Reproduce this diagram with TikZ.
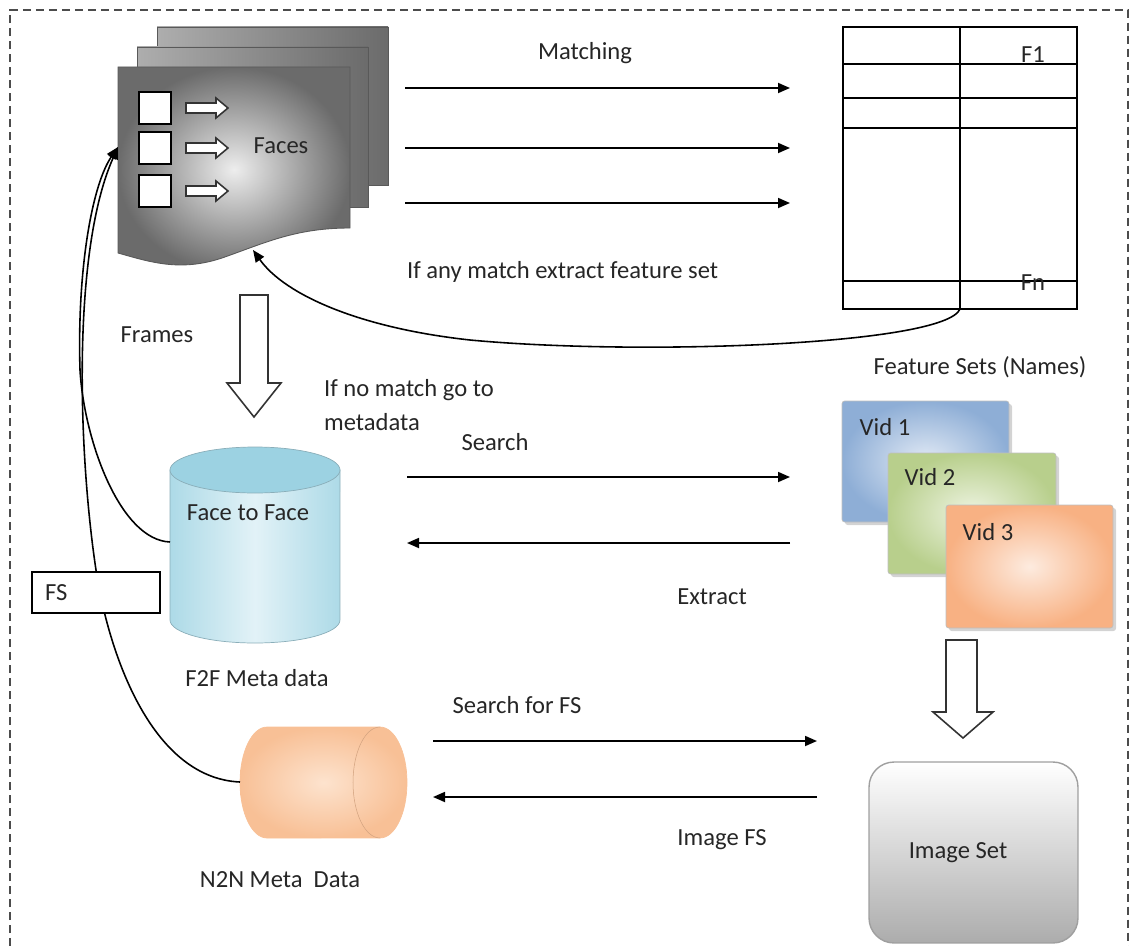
\documentclass[tikz,border=0pt]{standalone}
\usepackage{fontspec}
\setmainfont{Carlito}
\usetikzlibrary{arrows.meta,shadows}
\definecolor{sheetdark}{gray}{0.42}
\definecolor{sheetmid}{gray}{0.68}
\definecolor{sheetlight}{gray}{0.93}
\definecolor{cyltop}{HTML}{9CD2E2}
\definecolor{cylside}{HTML}{ADDAE7}
\definecolor{cyllight}{HTML}{E2F2F7}
\definecolor{n2nlight}{HTML}{FDE3CE}
\definecolor{n2nedge}{HTML}{F8C096}
\definecolor{vidA}{HTML}{8EAED6}
\definecolor{vidAl}{HTML}{E2EAF5}
\definecolor{vidB}{HTML}{B8CF8C}
\definecolor{vidBl}{HTML}{EEF4E2}
\definecolor{vidC}{HTML}{F8B183}
\definecolor{vidCl}{HTML}{FDEBDF}
\begin{document}
\begin{tikzpicture}[x=0.02cm,y=-0.02cm,
  txt/.style={font=\fontsize{14}{16}\selectfont, inner sep=1pt, text=black!85},
  conn/.style={line width=1pt, -{Triangle[length=0.24cm,width=0.2cm]}},
  link/.style={line width=0.9pt, -{Triangle[length=0.24cm,width=0.2cm]}},
  hollow/.style={draw=black!80, fill=white, line width=0.9pt},
  facebox/.style={draw=black, fill=white, line width=1pt, minimum size=0.64cm, inner sep=0pt},
  border/.style={draw=black!70, line width=0.8pt, dash pattern=on 0.16cm off 0.1cm},
  tline/.style={draw=black, line width=1pt},
  vid/.style={draw=black!25, line width=0.4pt, rounded corners=1.5pt, shading=radial,
     drop shadow={shadow xshift=0.06cm, shadow yshift=-0.06cm, opacity=0.35}},
]
\useasboundingbox (0,0) rectangle (1132,946);
% dashed frame
\draw[border] (10,946) -- (10,10) -- (1128,10) -- (1128,946);

% ---------- Faces document stack ----------
\path[draw=gray!70!black, line width=0.5pt, left color=sheetmid, right color=sheetdark] (157,27) rectangle (388,185);
\path[draw=gray!70!black, line width=0.5pt, left color=sheetmid, right color=sheetdark] (137,47) rectangle (368,207);
\path[draw=gray!70!black, line width=0.5pt, shading=radial, inner color=sheetlight, outer color=sheetdark]
  (118,67) -- (350,67) -- (350,228) .. controls (295,228) and (265,243) .. (222,258)
  .. controls (180,272) and (150,262) .. (118,253) -- cycle;
\coordinate (facesL) at (118,147);
\coordinate (facesB) at (253,250);
\foreach \c/\n in {108/1,148/2,191/3}{
  \node[facebox] (sq\n) at (155,\c) {};
  \draw[hollow] (186,\c) ++(0,-5) -- ++(30,0) -- ++(0,-5) -- ++(12,10) -- ++(-12,10) -- ++(0,-5) -- ++(-30,0) -- cycle;
}
\node[txt] (faces) at (281,146) {Faces};
\node[txt] (frames) at (157,335) {Frames};

% frames hollow arrow
\draw[hollow] (240,295) -- (268,295) -- (268,383) -- (281,383) -- (254,417) -- (227,383) -- (240,383) -- cycle;

% ---------- Matching arrows ----------
\node[txt] (matching) at (585,53) {Matching};
\coordinate (m1s) at (405,88);  \coordinate (m1e) at (790,88);
\coordinate (m2s) at (405,148); \coordinate (m2e) at (790,148);
\coordinate (m3s) at (405,203); \coordinate (m3e) at (790,203);
\draw[conn] (m1s) -- (m1e);
\draw[conn] (m2s) -- (m2e);
\draw[conn] (m3s) -- (m3e);
\node[txt, anchor=west] (ifany) at (405,272) {If any match extract feature set};

% ---------- Feature table ----------
\node[draw=black, line width=1pt, minimum width=4.68cm, minimum height=5.64cm, inner sep=0pt] (table) at (960,168) {};
\draw[tline] (960,27) -- (960,309);
\foreach \yy in {64,98,128,281}{ \draw[tline] (843,\yy) -- (1077,\yy); }
\node[txt] (f1) at (1033,55) {F1};
\node[txt] (fn) at (1033,283) {Fn};
\node[txt] (fsets) at (980,367) {Feature Sets (Names)};
\coordinate (tableB) at (960,309);
\draw[link] (tableB) .. controls (945,345) and (640,356) .. (470,340) .. controls (360,328) and (285,295) .. (facesB);

% ---------- F2F cylinder ----------
\path[draw=cylside!80!black, line width=0.4pt, left color=cylside, right color=cylside, middle color=cyllight]
  (170,470) -- (170,620) arc[start angle=180,end angle=360,x radius=1.7cm,y radius=0.46cm] -- (340,470) -- cycle;
\path[draw=cylside!80!black, line width=0.4pt, fill=cyltop] (255,470) ellipse [x radius=1.7cm, y radius=0.46cm];
\node[txt] (f2f) at (248,513) {Face to Face};
\node[txt] (f2flabel) at (257,678) {F2F Meta data};
\coordinate (f2fL) at (170,542);

\node[txt, anchor=west] (nomatch1) at (322,390) {If no match go to};
\node[txt, anchor=west] (nomatch2) at (322,422) {metadata};

% ---------- N2N cylinder ----------
\path[draw=n2nedge, line width=0.4pt, shading=radial, inner color=n2nlight, outer color=n2nedge]
  (267,727) -- (380,727) arc[start angle=90,end angle=-90,x radius=0.54cm,y radius=1.11cm]
  -- (267,838) arc[start angle=270,end angle=90,x radius=0.54cm,y radius=1.11cm] -- cycle;
\draw[n2nedge!85!black, line width=0.3pt] (380,727) arc[start angle=90,end angle=270,x radius=0.54cm,y radius=1.11cm];
\node[txt] (n2nlabel) at (280,880) {N2N Meta\ \ Data};
\coordinate (n2nL) at (240,782);

% ---------- left return curves ----------
\draw[link] (f2fL) .. controls (120,540) and (84,440) .. (80,370) .. controls (77,270) and (92,185) .. (facesL);
\draw[link] (n2nL) .. controls (150,778) and (108,650) .. (96,570) .. controls (78,450) and (72,250) .. (facesL);
% FS box drawn over the curve
\node[draw=black, fill=white, line width=1pt, minimum width=2.56cm, minimum height=0.82cm, inner sep=0pt] (fsbox) at (96,592.5) {};
\node[txt, anchor=west] (fstext) at (43,593) {FS};

% ---------- Search / Extract ----------
\node[txt] (search) at (495,442) {Search};
\coordinate (s1s) at (407,477); \coordinate (s1e) at (790,477);
\coordinate (s2s) at (790,543); \coordinate (s2e) at (407,543);
\draw[conn] (s1s) -- (s1e);
\draw[conn] (s2s) -- (s2e);
\node[txt] (extract) at (712,597) {Extract};

% ---------- Vid cards ----------
\path[vid, inner color=vidAl, outer color=vidA] (842,401) rectangle (1009,522);
\path[vid, inner color=vidBl, outer color=vidB] (888,453) rectangle (1056,574);
\path[vid, inner color=vidCl, outer color=vidC] (946,505) rectangle (1113,628);
\node[txt] (vid1) at (885,427) {Vid 1};
\node[txt] (vid2) at (930,477) {Vid 2};
\node[txt] (vid3) at (988,532) {Vid 3};

% hollow arrow to image set
\draw[hollow] (946,640) -- (977,640) -- (977,712) -- (993,712) -- (963,738) -- (933,712) -- (946,712) -- cycle;

% ---------- Image set ----------
\node[draw=gray!75, line width=0.8pt, rounded corners=0.5cm, top color=white, bottom color=gray!65,
      minimum width=4.18cm, minimum height=3.62cm, inner sep=0pt] (imgset) at (973.5,852.5) {};
\node[txt] (imgtext) at (958,853) {Image Set};

% ---------- Search for FS / Image FS ----------
\node[txt] (searchfs) at (517,705) {Search for FS};
\coordinate (t1s) at (433,741); \coordinate (t1e) at (817,741);
\coordinate (t2s) at (817,797); \coordinate (t2e) at (433,797);
\draw[conn] (t1s) -- (t1e);
\draw[conn] (t2s) -- (t2e);
\node[txt] (imagefs) at (722,840) {Image FS};
\end{tikzpicture}
\end{document}
